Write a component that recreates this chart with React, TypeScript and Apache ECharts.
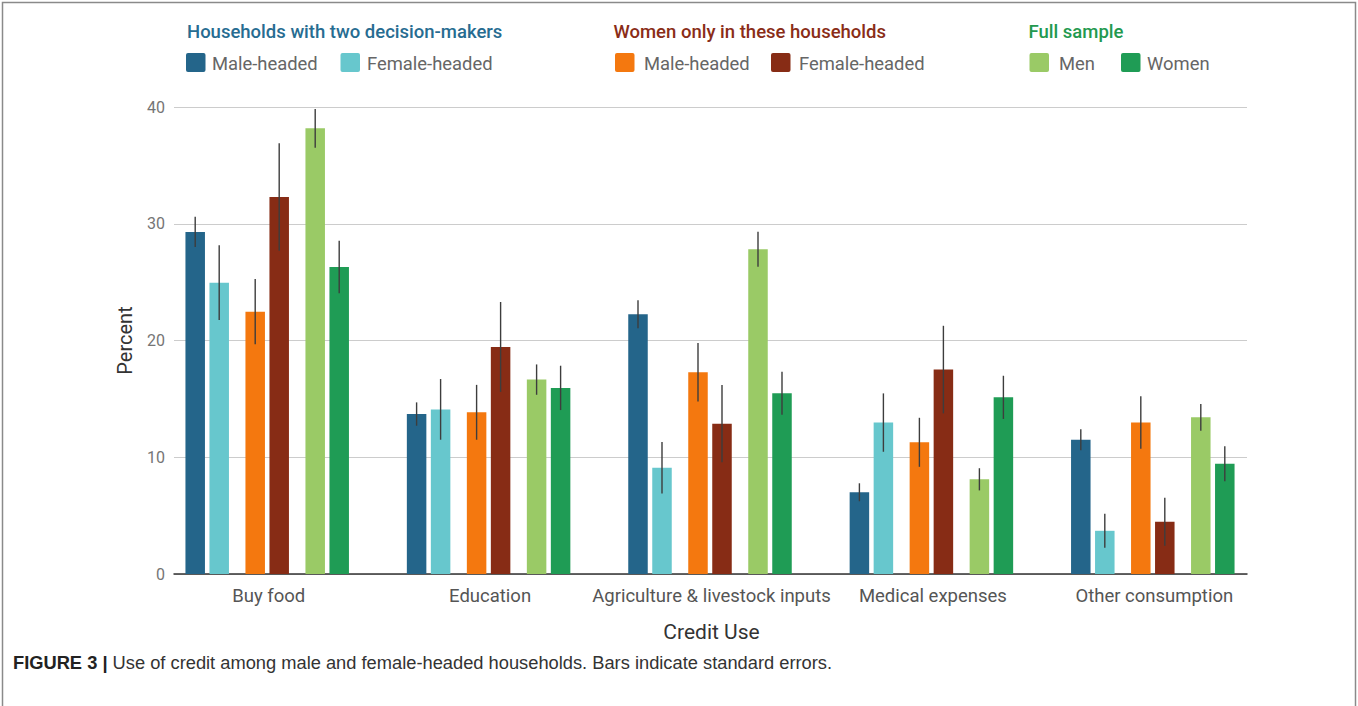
import React, { useEffect, useRef } from "react";
import * as echarts from "echarts";

const categories = [
  "Buy food",
  "Education",
  "Agriculture & livestock inputs",
  "Medical expenses",
  "Other consumption",
];

const seriesNames = [
  "Two decision-makers: Male-headed",
  "Two decision-makers: Female-headed",
  "Women only: Male-headed",
  "Women only: Female-headed",
  "Full sample: Men",
  "Full sample: Women",
];

const twoMale = [29.3, 13.7, 22.25, 7.0, 11.5];
const twoMaleSE = [1.3, 1.0, 1.2, 0.77, 0.9];
const twoFemale = [24.95, 14.1, 9.1, 12.97, 3.7];
const twoFemaleSE = [3.2, 2.6, 2.2, 2.5, 1.45];
const womenMale = [22.47, 13.85, 17.28, 11.28, 12.97];
const womenMaleSE = [2.8, 2.35, 2.5, 2.1, 2.25];
const womenFemale = [32.29, 19.45, 12.88, 17.51, 4.48];
const womenFemaleSE = [4.6, 3.85, 3.3, 3.75, 2.05];
const fullMen = [38.17, 16.65, 27.82, 8.11, 13.42];
const fullMenSE = [1.65, 1.3, 1.5, 0.95, 1.15];
const fullWomen = [26.3, 15.94, 15.48, 15.13, 9.45];
const fullWomenSE = [2.25, 1.9, 1.85, 1.85, 1.5];

const yTicks = [0, 10, 20, 30, 40];

const colors = ["#24658A", "#67C7CD", "#F4780F", "#872C15", "#9ACA66", "#1F9C55"];
const groupTitles = [
  "Households with two decision-makers",
  "Women only in these households",
  "Full sample",
];
const groupTitleColors = ["#276C91", "#8A2D17", "#23994F"];
const legendItems = [
  ["Male-headed", "Female-headed"],
  ["Male-headed", "Female-headed"],
  ["Men", "Women"],
];

const values = [twoMale, twoFemale, womenMale, womenFemale, fullMen, fullWomen];
const errors = [twoMaleSE, twoFemaleSE, womenMaleSE, womenFemaleSE, fullMenSE, fullWomenSE];

const FONT = "Roboto";

export default function App() {
  const ref = useRef<HTMLDivElement>(null);

  useEffect(() => {
    if (!ref.current) return;
    const chart = echarts.init(ref.current, null, { renderer: "svg" });

    const series = values.map((vals, s) => ({
      type: "custom",
      name: seriesNames[s],
      xAxisIndex: 1,
      yAxisIndex: 1,
      clip: false,
      encode: { x: 0, y: 1 },
      data: vals.map((v, i) => [i, v, errors[s][i]]),
      renderItem: (params: any, api: any) => {
        const idx = api.value(0);
        const v = api.value(1);
        const se = api.value(2);
        const bandW = api.size([1, 0])[0];
        const pair = Math.floor(s / 2);
        const side = s % 2 === 0 ? -1 : 1;
        const base = api.coord([idx, 0]);
        const cx = base[0] + bandW * 0.271 * (pair - 1) + bandW * 0.0542 * side - 1.5;
        const w = bandW * 0.0881;
        const top = api.coord([idx, v])[1];
        const eHi = api.coord([idx, v + se])[1];
        const eLo = api.coord([idx, v - se])[1];
        return {
          type: "group",
          children: [
            {
              type: "rect",
              shape: { x: cx - w / 2, y: top, width: w, height: base[1] - top },
              style: { fill: colors[s] },
            },
            {
              type: "line",
              shape: { x1: cx, y1: eHi, x2: cx, y2: eLo },
              style: { stroke: "#3d3d3d", lineWidth: 1.4 },
            },
          ],
        };
      },
    }));

    const legendX = [
      [186, 212, 340.5, 367],
      [615, 644, 771, 799],
      [1029.5, 1059, 1121, 1147],
    ];
    const titleX = [187, 613.5, 1028.5];

    const graphics: any[] = [];
    groupTitles.forEach((t, g) => {
      graphics.push({
        type: "text",
        x: titleX[g],
        y: 31.5,
        style: {
          text: t,
          fill: groupTitleColors[g],
          font: `500 18.5px ${FONT}`,
          verticalAlign: "middle",
          align: "left",
        },
      });
      legendItems[g].forEach((name, k) => {
        const sx = legendX[g][k * 2];
        const tx = legendX[g][k * 2 + 1];
        graphics.push({
          type: "rect",
          shape: { x: sx, y: 53, width: 19.5, height: 19, r: 2 },
          style: { fill: colors[g * 2 + k] },
        });
        graphics.push({
          type: "text",
          x: tx,
          y: 63,
          style: {
            text: name,
            fill: "#666666",
            font: `18.4px ${FONT}`,
            verticalAlign: "middle",
            align: "left",
          },
        });
      });
    });

    graphics.push({
      type: "polyline",
      shape: {
        points: [
          [2.5, 706],
          [2.5, 2.5],
          [1355.5, 2.5],
          [1355.5, 706],
        ],
      },
      style: { stroke: "#8a8a8a", lineWidth: 1.5, fill: "none" },
    });

    graphics.push({
      type: "text",
      x: 13,
      y: 662,
      style: {
        text: "{b|FIGURE 3 |} Use of credit among male and female-headed households. Bars indicate standard errors.",
        fill: "#333333",
        font: "18.3px 'Liberation Sans'",
        verticalAlign: "middle",
        align: "left",
        rich: {
          b: {
            fontFamily: "Liberation Sans",
            fontWeight: "bold",
            fontSize: 18.3,
            fill: "#222222",
            color: "#222222",
          },
        },
      },
    });

    chart.setOption({
      animation: false,
      backgroundColor: "#ffffff",
      grid: [
        { left: 174, right: 111, top: 107, bottom: 132 },
        { left: 158, right: 93, top: 107, bottom: 132 },
      ],
      xAxis: [
        {
          type: "value",
          gridIndex: 0,
          min: 0,
          max: 1,
          axisLabel: { show: false },
          axisTick: { show: false },
          splitLine: { show: false },
          axisLine: { show: true, lineStyle: { color: "#333333", width: 1.5 } },
        },
        {
          type: "category",
          gridIndex: 1,
          data: categories,
          axisLine: { show: false },
          axisTick: { show: false },
          axisLabel: {
            fontFamily: FONT,
            fontSize: 18.5,
            color: "#555555",
            margin: 12,
            interval: 0,
          },
          name: "Credit Use",
          nameLocation: "middle",
          nameGap: 47,
          nameTextStyle: { fontFamily: FONT, fontSize: 21, color: "#333333" },
        },
      ],
      yAxis: [
        {
          type: "value",
          gridIndex: 0,
          min: yTicks[0],
          max: yTicks[yTicks.length - 1],
          interval: 10,
          axisLine: { show: false },
          axisTick: { show: false },
          axisLabel: { fontFamily: FONT, fontSize: 16, color: "#757575", margin: 9 },
          splitLine: { lineStyle: { color: "#cccccc", width: 1 } },
          name: "Percent",
          nameLocation: "middle",
          nameGap: 39,
          nameTextStyle: { fontFamily: FONT, fontSize: 20, color: "#333333" },
        },
        {
          type: "value",
          gridIndex: 1,
          min: 0,
          max: 40,
          show: false,
        },
      ],
      series,
      graphic: graphics,
    });

    return () => chart.dispose();
  }, []);

  return (
    <div
      ref={ref}
      style={{ position: "absolute", left: 0, top: 0, width: 1358, height: 706 }}
    />
  );
}
